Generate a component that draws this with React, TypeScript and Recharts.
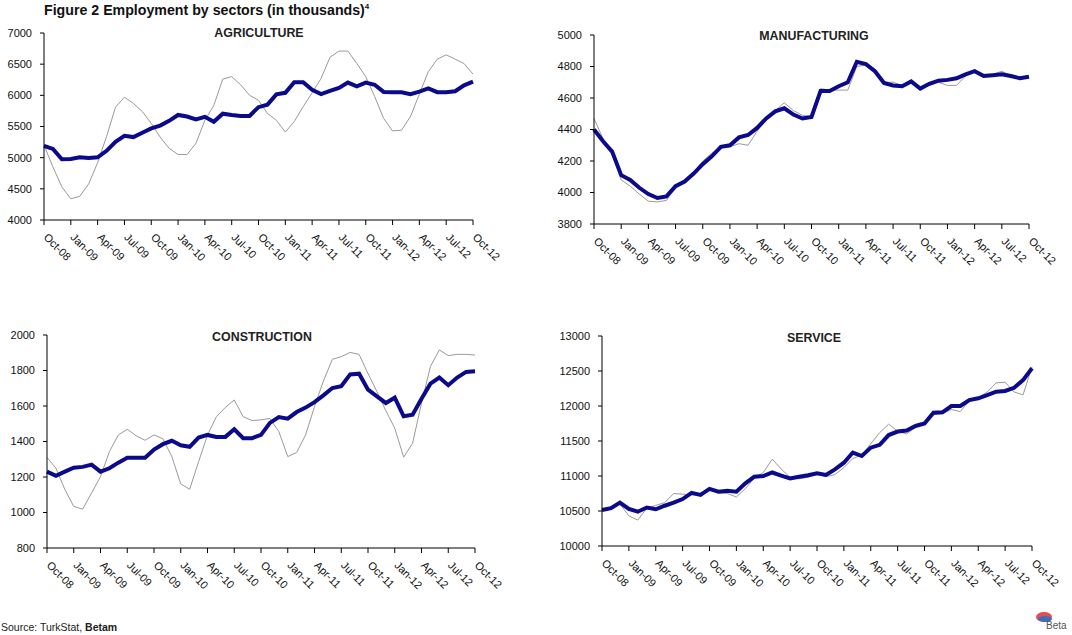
import React from "react";
import { LineChart, Line, XAxis, YAxis } from "recharts";

const months = [
  "Oct-08", "Nov-08", "Dec-08", "Jan-09", "Feb-09", "Mar-09", "Apr-09", "May-09", "Jun-09", "Jul-09", "Aug-09", "Sep-09",
  "Oct-09", "Nov-09", "Dec-09", "Jan-10", "Feb-10", "Mar-10", "Apr-10", "May-10", "Jun-10", "Jul-10", "Aug-10", "Sep-10",
  "Oct-10", "Nov-10", "Dec-10", "Jan-11", "Feb-11", "Mar-11", "Apr-11", "May-11", "Jun-11", "Jul-11", "Aug-11", "Sep-11",
  "Oct-11", "Nov-11", "Dec-11", "Jan-12", "Feb-12", "Mar-12", "Apr-12", "May-12", "Jun-12", "Jul-12", "Aug-12", "Sep-12",
  "Oct-12",
];

// seasonally adjusted (thick) and raw (thin) series, thousands
const agricultureSA = [
  5190, 5140, 4975, 4980, 5005, 4995, 5005, 5110, 5255, 5350, 5330, 5400, 5470, 5515, 5590, 5685, 5660, 5615, 5655, 5575,
  5705, 5685, 5670, 5670, 5810, 5850, 6015, 6040, 6210, 6210, 6090, 6020, 6070, 6120, 6205, 6145, 6205, 6170, 6055, 6050,
  6050, 6020, 6060, 6110, 6050, 6050, 6065, 6160, 6220,
];
const agricultureRaw = [
  5200, 4850, 4530, 4340, 4380, 4580, 4920, 5340, 5810, 5970, 5870, 5740, 5550, 5330, 5150, 5050, 5050, 5230, 5600, 5840,
  6260, 6300, 6170, 6000, 5920, 5710, 5600, 5410, 5580, 5820, 6040, 6270, 6610, 6710, 6710, 6510, 6300, 5980, 5630, 5430,
  5440, 5660, 6020, 6380, 6580, 6650, 6580, 6510, 6340,
];

const manufacturingSA = [
  4400, 4325, 4260, 4110, 4080, 4030, 3990, 3965, 3975, 4040, 4070, 4120, 4180, 4230, 4290, 4300, 4350, 4365, 4410, 4470,
  4515, 4535, 4495, 4470, 4480, 4645, 4645, 4675, 4700, 4830, 4815, 4770, 4695, 4680, 4675, 4705, 4660, 4690, 4710, 4715,
  4725, 4750, 4770, 4740, 4745, 4750, 4740, 4725, 4735,
];
const manufacturingRaw = [
  4470, 4340, 4250, 4080, 4040, 3990, 3945, 3940, 3950, 4040, 4080, 4130, 4200, 4250, 4290, 4290, 4310, 4300, 4390, 4470,
  4520, 4570, 4520, 4490, 4480, 4660, 4650, 4650, 4650, 4800, 4810, 4770, 4700, 4700, 4680, 4700, 4660, 4680, 4700, 4680,
  4680, 4740, 4780, 4750, 4750, 4770, 4740, 4730, 4740,
];

const constructionSA = [
  1230, 1207, 1230, 1252, 1257, 1270, 1230, 1249, 1281, 1308, 1308, 1308, 1355, 1385, 1404, 1379, 1370, 1422, 1437, 1426,
  1426, 1469, 1419, 1419, 1437, 1505, 1538, 1529, 1566, 1591, 1622, 1660, 1701, 1711, 1778, 1782, 1692, 1654, 1617, 1647,
  1542, 1551, 1641, 1726, 1760, 1717, 1760, 1792, 1796,
];
const constructionRaw = [
  1310, 1250, 1130, 1034, 1019, 1110, 1202, 1343, 1437, 1469, 1432, 1407, 1437, 1415, 1315, 1161, 1131, 1286, 1437, 1540,
  1592, 1634, 1540, 1518, 1522, 1530, 1456, 1315, 1338, 1437, 1597, 1741, 1863, 1878, 1902, 1891, 1783, 1681, 1574, 1475,
  1312, 1390, 1616, 1822, 1916, 1884, 1891, 1891, 1887,
];

const serviceSA = [
  10515, 10540, 10620, 10530, 10490, 10550, 10525, 10575, 10620, 10670, 10760, 10730, 10815, 10775, 10790, 10775, 10895,
  10990, 11000, 11050, 11005, 10965, 10990, 11010, 11040, 11015, 11095, 11190, 11335, 11285, 11405, 11445, 11585, 11635,
  11650, 11715, 11750, 11905, 11910, 12000, 12000, 12085, 12110, 12155, 12205, 12215, 12260, 12370, 12540,
];
const serviceRaw = [
  10510, 10530, 10600, 10430, 10370, 10540, 10580, 10620, 10750, 10740, 10730, 10720, 10800, 10760, 10750, 10700, 10820,
  10970, 11050, 11240, 11100, 10980, 10960, 10980, 11030, 10990, 11020, 11120, 11250, 11300, 11460, 11620, 11740, 11640,
  11600, 11700, 11760, 11880, 11890, 11950, 11920, 12080, 12120, 12200, 12330, 12340, 12200, 12160, 12560,
];

const agricultureTicks = [4000, 4500, 5000, 5500, 6000, 6500, 7000];
const manufacturingTicks = [3800, 4000, 4200, 4400, 4600, 4800, 5000];
const constructionTicks = [800, 1000, 1200, 1400, 1600, 1800, 2000];
const serviceTicks = [10000, 10500, 11000, 11500, 12000, 12500, 13000];

const FONT = "'Liberation Sans', Arial, sans-serif";
const NAVY = "#0a0a8a";

function XTick(props: any) {
  const { x, y, payload } = props;
  const tx = x - 1;
  const ty = y + 11;
  return (
    <text x={tx} y={ty} transform={`rotate(45 ${tx} ${ty})`} fontSize={11} fill="#111" fontFamily={FONT}>
      {payload.value}
    </text>
  );
}

interface PanelProps {
  title: string;
  sa: number[];
  raw: number[];
  ticks: number[];
  left: number;
  top: number;
  width: number;
  height: number;
  yWidth: number;
  margin: { top: number; right: number; bottom: number; left: number };
  titleX: number;
  titleY: number;
}

function Panel({ title, sa, raw, ticks, left, top, width, height, yWidth, margin, titleX, titleY }: PanelProps) {
  const data = months.map((m, i) => ({ month: m, sa: sa[i], raw: raw[i] }));
  return (
    <div style={{ position: "absolute", left, top, width, height }}>
      <LineChart width={width} height={height} data={data} margin={margin}>
        <XAxis
          dataKey="month"
          interval={2}
          height={50}
          tickSize={5}
          stroke="#000"
          axisLine={{ stroke: "#000" }}
          tickLine={{ stroke: "#000" }}
          tick={<XTick />}
        />
        <YAxis
          domain={[ticks[0], ticks[ticks.length - 1]]}
          ticks={ticks}
          width={yWidth}
          tickSize={4}
          tickMargin={8}
          axisLine={{ stroke: "#000" }}
          tickLine={{ stroke: "#000" }}
          tick={{ fontSize: 11, fill: "#111", fontFamily: FONT }}
        />
        <Line dataKey="raw" stroke="#9a9a9a" strokeWidth={1} dot={false} isAnimationActive={false} />
        <Line dataKey="sa" stroke={NAVY} strokeWidth={4} dot={false} isAnimationActive={false} />
      </LineChart>
      <div
        style={{
          position: "absolute",
          left: titleX - left - 90,
          top: titleY - top - 8,
          width: 180,
          textAlign: "center",
          fontFamily: FONT,
          fontWeight: "bold",
          fontSize: 12.4,
          lineHeight: "16px",
          color: "#222",
        }}
      >
        {title}
      </div>
    </div>
  );
}

export default function App() {
  return (
    <div style={{ position: "absolute", left: 0, top: 0, width: 1072, height: 635, background: "#fff", overflow: "hidden" }}>
      <div
        style={{
          position: "absolute",
          left: 44,
          top: -1,
          fontFamily: FONT,
          fontWeight: "bold",
          fontSize: 14.2,
          lineHeight: "16px",
          color: "#111",
          whiteSpace: "nowrap",
        }}
      >
        Figure 2 Employment by sectors (in thousands)<sup style={{ fontSize: 8 }}>4</sup>
      </div>
      <Panel
        title="AGRICULTURE"
        sa={agricultureSA}
        raw={agricultureRaw}
        ticks={agricultureTicks}
        left={0}
        top={0}
        width={540}
        height={300}
        yWidth={44}
        margin={{ top: 33, right: 67, bottom: 30, left: 0 }}
        titleX={259}
        titleY={33}
      />
      <Panel
        title="MANUFACTURING"
        sa={manufacturingSA}
        raw={manufacturingRaw}
        ticks={manufacturingTicks}
        left={540}
        top={0}
        width={532}
        height={300}
        yWidth={54}
        margin={{ top: 35, right: 43, bottom: 26, left: 0 }}
        titleX={814}
        titleY={36}
      />
      <Panel
        title="CONSTRUCTION"
        sa={constructionSA}
        raw={constructionRaw}
        ticks={constructionTicks}
        left={0}
        top={300}
        width={540}
        height={320}
        yWidth={47}
        margin={{ top: 35, right: 65, bottom: 22, left: 0 }}
        titleX={262}
        titleY={337}
      />
      <Panel
        title="SERVICE"
        sa={serviceSA}
        raw={serviceRaw}
        ticks={serviceTicks}
        left={540}
        top={300}
        width={532}
        height={320}
        yWidth={62}
        margin={{ top: 36, right: 40, bottom: 24, left: 0 }}
        titleX={814}
        titleY={338}
      />
      <div
        style={{
          position: "absolute",
          left: 1,
          top: 621,
          fontFamily: FONT,
          fontSize: 10.5,
          lineHeight: "13px",
          color: "#222",
          whiteSpace: "nowrap",
        }}
      >
        Source: TurkStat, <b>Betam</b>
      </div>
      <div style={{ position: "absolute", left: 1034, top: 610 }}>
        <svg width={38} height={22}>
          <ellipse cx={10} cy={7} rx={8} ry={5} fill="#e05050" />
          <ellipse cx={11} cy={9} rx={7} ry={3} fill="#3a6fc0" />
          <text x={12} y={19} fontSize={10} fill="#555" fontFamily={FONT}>
            Beta
          </text>
        </svg>
      </div>
    </div>
  );
}
